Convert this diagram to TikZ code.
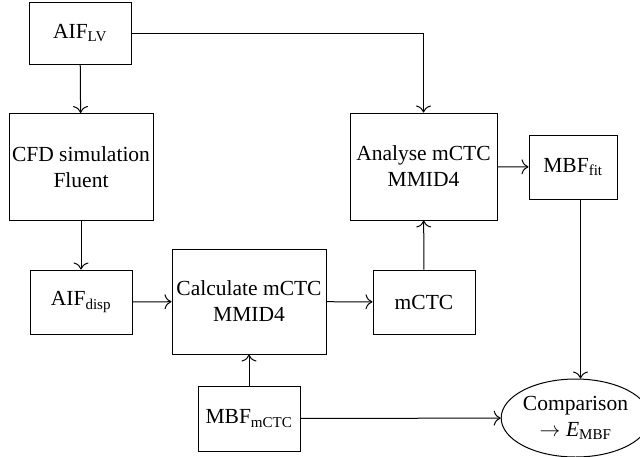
\documentclass[tikz,border=0pt]{standalone}
\usepackage{amsmath}
\usepackage{fontspec}
\setmainfont{Liberation Serif}
\usetikzlibrary{arrows.meta,shapes.geometric,positioning}

\begin{document}
\begin{tikzpicture}[x=1pt,y=-1pt,>={To[length=7pt,width=15pt,line width=1pt]},line width=1pt,
    box/.style={draw,rectangle,inner sep=0pt,align=center,
      font=\fontsize{21.5}{26}\selectfont},
    oval/.style={draw,ellipse,inner sep=0pt,align=center,
      minimum width=125pt,minimum height=78pt,font=\fontsize{21.5}{26}\selectfont}]
  \useasboundingbox (0,0) rectangle (640,456);

  \node[box,minimum width=102pt,minimum height=62pt]  (aiflv)   at (80,33)    {AIF$_\text{LV}$};
  \node[box,minimum width=144pt,minimum height=107pt] (cfd)     at (81,167)   {CFD simulation\\Fluent};
  \node[box,minimum width=102pt,minimum height=64pt]  (aifdisp) at (81,302)   {AIF$_\text{disp}$};
  \node[box,minimum width=154pt,minimum height=105pt] (calc)    at (249,301.5) {Calculate mCTC\\MMID4};
  \node[box,minimum width=102pt,minimum height=65pt]  (mbfmctc) at (249,418.5) {MBF$_\text{mCTC}$};
  \node[box,minimum width=102pt,minimum height=64pt]  (mctc)    at (424,302)  {mCTC};
  \node[box,minimum width=147pt,minimum height=107pt] (analyse) at (423.5,166.5) {Analyse mCTC\\MMID4};
  \node[box,minimum width=88pt,minimum height=64pt]   (mbffit)  at (573,167)  {MBF$_\text{fit}$};
  \node[oval] (comp) at (575.5,418) {Comparison\\$\rightarrow \textit{E}_\text{MBF}$};

  \draw[->] (aiflv) -- (cfd);
  \draw[->] (cfd) -- (aifdisp);
  \draw[->] (aifdisp) -- (calc);
  \draw[->] (calc) -- (mctc);
  \draw[->] (mbfmctc) -- (calc);
  \draw[->] (mctc) -- (analyse);
  \draw[->] (aiflv.east) -| (analyse.north);
  \draw[->] (analyse) -- (mbffit);
  \draw[->] (mbffit.south -| comp.north) ++(5,0) coordinate (fitdown) -- (fitdown |- comp.north);
  \draw[->] (mbfmctc) -- (comp);
\end{tikzpicture}
\end{document}
